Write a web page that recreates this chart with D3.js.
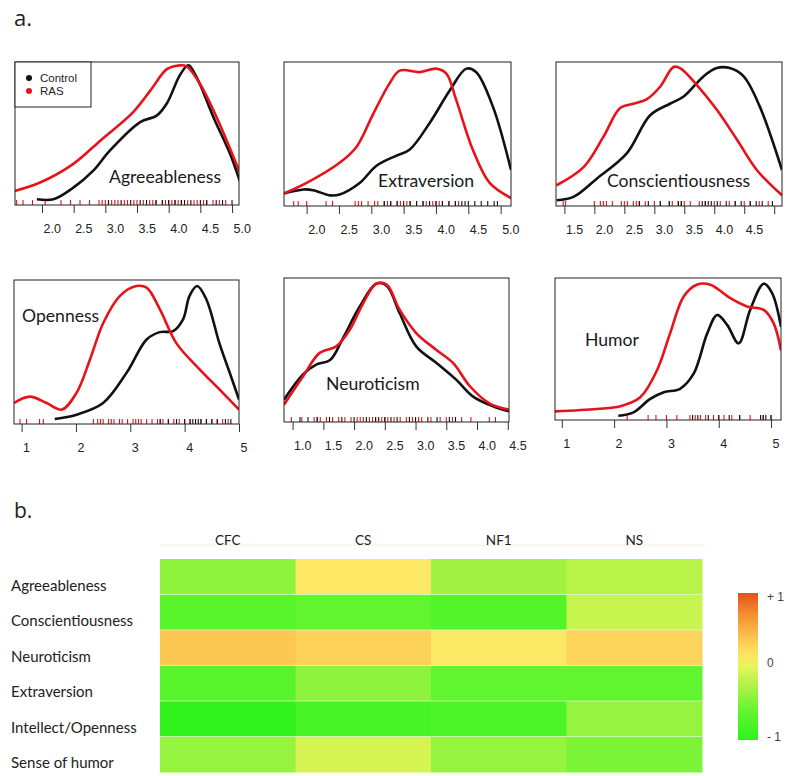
<!DOCTYPE html>
<html><head><meta charset="utf-8">
<script src="https://cdn.jsdelivr.net/npm/d3@7"></script>
<style>body{margin:0;background:#fff;} svg{display:block}</style>
</head><body><svg id="c" width="800" height="776"></svg>
<script>
// ================= DATA =================
// Density curves: [score, relative density (0..1 of plot height)]
const agreeControl = [[1.92,0.04],[2.18,0.04],[2.49,0.12],[2.81,0.24],[3.07,0.38],[3.55,0.58],[3.81,0.625],[3.97,0.71],[4.18,0.91],[4.31,0.977],[4.44,0.895],[4.71,0.61],[4.97,0.356],[5.12,0.17]];
const agreeRAS = [[1.57,0.098],[1.97,0.157],[2.49,0.286],[2.92,0.45],[3.44,0.65],[3.71,0.80],[3.97,0.95],[4.13,0.974],[4.28,0.97],[4.49,0.85],[4.76,0.61],[5.12,0.23]];
const extraControl = [[1.65,0.087],[1.95,0.115],[2.1,0.11],[2.36,0.074],[2.51,0.08],[2.82,0.16],[3.08,0.28],[3.39,0.35],[3.59,0.39],[3.9,0.575],[4.21,0.80],[4.47,0.954],[4.62,0.93],[4.88,0.69],[5.16,0.25]];
const extraRAS = [[1.65,0.087],[2.0,0.16],[2.51,0.30],[2.77,0.41],[3.03,0.64],[3.28,0.85],[3.44,0.94],[3.75,0.93],[4.0,0.954],[4.16,0.92],[4.31,0.74],[4.57,0.39],[4.83,0.16],[5.16,0.055]];
const conscControl = [[1.37,0.04],[1.65,0.063],[2.04,0.19],[2.54,0.365],[2.93,0.63],[3.26,0.71],[3.49,0.76],[3.82,0.9],[4.04,0.958],[4.26,0.958],[4.49,0.9],[4.76,0.69],[5.13,0.25]];
const conscRAS = [[1.37,0.144],[1.82,0.27],[2.15,0.48],[2.43,0.68],[2.65,0.71],[2.87,0.74],[3.1,0.83],[3.32,0.965],[3.43,0.958],[3.71,0.84],[4.04,0.67],[4.38,0.46],[4.71,0.25],[5.13,0.074]];
const openControl = [[1.61,0.035],[2.01,0.065],[2.5,0.146],[2.93,0.355],[3.3,0.587],[3.54,0.638],[3.79,0.645],[3.97,0.726],[4.09,0.89],[4.23,0.958],[4.4,0.865],[4.64,0.56],[4.83,0.355],[5.0,0.17]];
const openRAS = [[0.86,0.146],[1.15,0.19],[1.46,0.146],[1.74,0.10],[2.01,0.216],[2.26,0.45],[2.5,0.70],[2.81,0.89],[3.11,0.958],[3.3,0.947],[3.54,0.80],[3.85,0.56],[4.28,0.378],[4.64,0.24],[5.0,0.10]];
const neuroControl = [[0.86,0.155],[1.17,0.33],[1.39,0.40],[1.61,0.43],[1.82,0.583],[2.09,0.80],[2.36,0.96],[2.53,0.947],[2.74,0.757],[3.01,0.525],[3.34,0.41],[3.66,0.294],[3.93,0.178],[4.26,0.109],[4.52,0.074]];
const neuroRAS = [[0.86,0.12],[1.17,0.317],[1.44,0.48],[1.71,0.525],[1.93,0.64],[2.15,0.826],[2.36,0.96],[2.53,0.954],[2.74,0.78],[3.01,0.618],[3.34,0.50],[3.61,0.41],[3.88,0.25],[4.2,0.13],[4.52,0.086]];
const humorControl = [[2.08,0.03],[2.37,0.054],[2.69,0.149],[2.95,0.196],[3.26,0.22],[3.52,0.326],[3.78,0.61],[3.97,0.74],[4.16,0.67],[4.38,0.54],[4.6,0.775],[4.86,0.96],[5.02,0.894],[5.19,0.657]];
const humorRAS = [[0.87,0.061],[1.67,0.078],[2.12,0.097],[2.5,0.16],[2.82,0.35],[3.07,0.61],[3.33,0.87],[3.58,0.953],[3.84,0.953],[4.22,0.858],[4.54,0.80],[4.86,0.775],[5.05,0.68],[5.19,0.49]];

// Rug values (individual scores)
const agreeRugRAS = [1.6,1.7,1.85,2.05,2.3,2.45,2.6,2.75,2.9,2.95,3.0,3.05,3.1,3.15,3.2,3.3,3.35,3.45,3.5,3.6,3.7,3.75,3.8,3.9,3.95,4.0,4.05,4.1,4.15,4.2,4.3,4.4,4.45,4.55,4.6,4.7,4.8,4.9];
const agreeRugControl = [3.05,3.25,3.4,3.55,3.65,3.8,3.9,4.0,4.1,4.2,4.25,4.35,4.5,4.6,4.75,4.85,5.0];
const extraRugRAS = [1.8,1.87,2.0,2.3,2.4,2.75,2.8,2.85,2.95,3.05,3.1,3.2,3.25,3.3,3.4,3.45,3.55,3.6,3.7,3.8,3.85,3.9,3.95,4.0,4.05,4.1,4.2,4.3,4.35];
const extraRugControl = [3.2,3.3,3.4,3.5,3.6,3.7,3.8,3.9,4.0,4.1,4.2,4.3,4.4,4.45,4.5,4.6,4.7,4.8,4.9,4.95];
const conscRugRAS = [1.48,1.52,2.0,2.1,2.15,2.2,2.3,2.45,2.5,2.55,2.65,2.7,2.75,2.85,3.0,3.1,3.25,3.3,3.4,3.45,3.5,3.6,3.75,3.85,4.0,4.1,4.25,4.35,4.5,4.6,4.75,4.9];
const conscRugControl = [2.75,2.9,3.1,3.25,3.4,3.45,3.8,3.85,3.9,3.95,4.05,4.2,4.35,4.45,4.6,4.7,4.8,4.97];
const openRugRAS = [0.97,1.09,1.33,1.4,2.32,2.4,2.45,2.5,2.6,2.65,2.7,2.8,2.85,2.95,3.05,3.1,3.15,3.2,3.3,3.4,3.5,3.55,3.6,3.7,3.8,3.9,4.0,4.1,4.2,4.3,4.4,4.5,4.6,4.7,4.8];
const openRugControl = [3.55,3.7,3.85,4.0,4.1,4.15,4.2,4.25,4.3,4.4,4.5,4.6,4.75,4.85];
const neuroRugRAS = [0.98,1.15,1.35,1.4,1.45,1.55,1.65,1.75,1.85,1.95,2.05,2.1,2.15,2.25,2.3,2.35,2.45,2.5,2.55,2.65,2.75,2.85,2.95,3.05,3.1,3.25,3.4,3.5,3.6,3.75,3.9,4.2,4.3];
const neuroRugControl = [1.12,1.25,1.4,1.6,1.8,2.0,2.2,2.35,2.4,2.5,2.6,2.7,2.9,3.0,3.2,3.35,3.55,3.65];
const humorRugRAS = [2.25,2.65,2.8,3.0,3.2,3.45,3.55,3.65,3.75,3.9,4.0,4.1,4.25,4.4,4.6,4.85,5.0];
const humorRugControl = [3.5,3.6,3.8,4.0,4.2,4.4,4.8,4.85,4.9,5.0];

// Axis ticks (value) and tick labels
const ticksHalf = [2.0,2.5,3.0,3.5,4.0,4.5,5.0];
const ticksConsc = [1.5,2.0,2.5,3.0,3.5,4.0,4.5,5.0];
const labelsConsc = ["1.5","2.0","2.5","3.0","3.5","4.0","4.5",""];
const ticksInt = [1,2,3,4,5];
const ticksNeuro = [1.0,1.5,2.0,2.5,3.0,3.5,4.0,4.5];

const legendGroups = ["Control","RAS"];

// Heatmap
const hmColumns = ["CFC","CS","NF1","NS"];
const hmRows = ["Agreeableness","Conscientiousness","Neuroticism","Extraversion","Intellect/Openness","Sense of humor"];
const hmAgree = [-0.42, 0.15, -0.33, -0.22];
const hmConsc = [-0.68, -0.62, -0.72, -0.15];
const hmNeuro = [0.36, 0.30, 0.14, 0.28];
const hmExtra = [-0.70, -0.42, -0.62, -0.62];
const hmOpen = [-0.98, -0.80, -0.77, -0.38];
const hmHumor = [-0.38, -0.08, -0.38, -0.50];
const colorbarTicks = [1, 0, -1];
const colorbarLabels = ["+ 1", "0", "- 1"];

// ================= LAYOUT / STYLE =================
const RED = "#e8121a", BLACK = "#111";
const f1 = d3.format(".1f"), fi = d3.format("d");
const panels = [
  {title:"Agreeableness", ctl:agreeControl, ras:agreeRAS, rugC:agreeRugControl, rugR:agreeRugRAS, ticks:ticksHalf, fmt:f1, dom:[1.574,5.11], x0:15, x1:239, y0:62, y1:205, tx:109, ty:182.5, legend:true},
  {title:"Extraversion", ctl:extraControl, ras:extraRAS, rugC:extraRugControl, rugR:extraRugRAS, ticks:ticksHalf, fmt:f1, dom:[1.65,5.16], x0:284, x1:511, y0:62, y1:206, tx:378, ty:187},
  {title:"Conscientiousness", ctl:conscControl, ras:conscRAS, rugC:conscRugControl, rugR:conscRugRAS, ticks:ticksConsc, fmt:(d,i)=>labelsConsc[i], dom:[1.36,5.13], x0:556, x1:782, y0:62, y1:206, tx:607, ty:187},
  {title:"Openness", ctl:openControl, ras:openRAS, rugC:openRugControl, rugR:openRugRAS, ticks:ticksInt, fmt:fi, dom:[0.86,5.0], x0:14, x1:239, y0:280, y1:424, tx:22, ty:321.5},
  {title:"Neuroticism", ctl:neuroControl, ras:neuroRAS, rugC:neuroRugControl, rugR:neuroRugRAS, ticks:ticksNeuro, fmt:f1, dom:[0.86,4.52], x0:284, x1:509, y0:278, y1:422, tx:326, ty:390},
  {title:"Humor", ctl:humorControl, ras:humorRAS, rugC:humorRugControl, rugR:humorRugRAS, ticks:ticksInt, fmt:fi, dom:[0.87,5.19], x0:555, x1:781, y0:278, y1:420, tx:585, ty:346}
];

const svg = d3.select("#c");
svg.append("rect").attr("width",800).attr("height",776).attr("fill","#fff");

// panel letters
svg.append("text").attr("x",14).attr("y",26).attr("font-family","Open Sans, sans-serif").attr("font-size",22).attr("fill","#222").text("a.");
svg.append("text").attr("x",14).attr("y",518).attr("font-family","Open Sans, sans-serif").attr("font-size",21).attr("fill","#222").text("b.");

panels.forEach((p,i) => {
  const x = d3.scaleLinear().domain(p.dom).range([p.x0,p.x1]);
  const y = d3.scaleLinear().domain([0,1]).range([p.y1,p.y0]);
  const g = svg.append("g");
  const cid = "clip"+i;
  svg.append("clipPath").attr("id",cid).append("rect")
    .attr("x",p.x0).attr("y",p.y0-3).attr("width",p.x1-p.x0).attr("height",p.y1-p.y0+3);

  // rugs
  const rug = (vals,col) => g.append("g").selectAll("line").data(vals).join("line")
    .attr("x1",d=>x(d)).attr("x2",d=>x(d)).attr("y1",p.y1).attr("y2",p.y1-5)
    .attr("stroke",col).attr("stroke-width",1.1);
  rug(p.rugR,RED);
  rug(p.rugC,BLACK);

  const line = d3.line().x(d=>x(d[0])).y(d=>y(d[1])).curve(d3.curveCatmullRom.alpha(0.5));
  g.append("path").datum(p.ctl).attr("d",line).attr("fill","none").attr("stroke",BLACK)
    .attr("stroke-width",2.6).attr("clip-path",`url(#${cid})`);
  g.append("path").datum(p.ras).attr("d",line).attr("fill","none").attr("stroke",RED)
    .attr("stroke-width",2.6).attr("clip-path",`url(#${cid})`);

  // box
  g.append("rect").attr("x",p.x0).attr("y",p.y0).attr("width",p.x1-p.x0).attr("height",p.y1-p.y0)
    .attr("fill","none").attr("stroke","#222").attr("stroke-width",1);

  // axis
  const ax = g.append("g").attr("transform",`translate(0,${p.y1})`)
    .call(d3.axisBottom(x).tickValues(p.ticks).tickSize(8).tickFormat(p.fmt));
  ax.select(".domain").remove();
  ax.selectAll(".tick line").attr("stroke","#333").attr("stroke-width",1);
  ax.selectAll(".tick text").attr("text-anchor","start").attr("x",1).attr("y",19)
    .attr("font-family","Liberation Sans, Arial, sans-serif").attr("font-size",12.5).attr("fill","#222");

  // title
  g.append("text").attr("x",p.tx).attr("y",p.ty).attr("font-family","Lato, sans-serif")
    .attr("font-size",17.6).attr("fill","#1a1a1a").text(p.title);

  if (p.legend) {
    const lg = g.append("g");
    lg.append("rect").attr("x",p.x0).attr("y",p.y0).attr("width",76).attr("height",45)
      .attr("fill","#fff").attr("stroke","#222").attr("stroke-width",1);
    legendGroups.forEach((name,j) => {
      const cy = p.y0 + 16 + j*13;
      lg.append("circle").attr("cx",p.x0+14).attr("cy",cy).attr("r",3).attr("fill",j===0?BLACK:RED);
      lg.append("text").attr("x",p.x0+25).attr("y",cy+4).attr("font-family","Liberation Sans, Arial, sans-serif")
        .attr("font-size",11.5).attr("fill","#222").text(name);
    });
  }
});

// ================= HEATMAP =================
const hmValues = [hmAgree,hmConsc,hmNeuro,hmExtra,hmOpen,hmHumor];
const color = d3.scaleLinear()
  .domain([-1,-0.6,-0.3,0,0.15,0.4,0.7,1])
  .range(["#2ef21c","#64f530","#a8f244","#e6f55a","#fde866","#fcc24e","#f49030","#e8501a"]);
const hx = d3.scaleBand().domain(hmColumns).range([160,702]);
const hy = d3.scaleBand().domain(hmRows).range([559,772]);
const hg = svg.append("g");
hmRows.forEach((r,ri) => {
  hg.append("g").selectAll("rect").data(hmValues[ri]).join("rect")
    .attr("x",(d,ci)=>hx(hmColumns[ci])).attr("y",hy(r))
    .attr("width",hx.bandwidth()+0.5).attr("height",hy.bandwidth()+0.5)
    .attr("fill",d=>color(d));
});
// faint row separators
hg.selectAll("line.sep").data(hmRows.slice(1)).join("line").attr("class","sep")
  .attr("x1",160).attr("x2",702).attr("y1",d=>hy(d)).attr("y2",d=>hy(d))
  .attr("stroke","#e8f8e0").attr("stroke-opacity",0.7).attr("stroke-width",1);
// faint header line
hg.append("line").attr("x1",160).attr("x2",705).attr("y1",545).attr("y2",545)
  .attr("stroke","#f4f0dc").attr("stroke-width",1);

hg.selectAll("text.col").data(hmColumns).join("text").attr("class","col")
  .attr("x",d=>hx(d)+hx.bandwidth()/2).attr("y",545).attr("text-anchor","middle")
  .attr("font-family","Lato, sans-serif").attr("font-size",13.5).attr("fill","#222").text(d=>d);
hg.selectAll("text.row").data(hmRows).join("text").attr("class","row")
  .attr("x",11).attr("y",d=>hy(d)+hy.bandwidth()/2+14)
  .attr("font-family","Lato, sans-serif").attr("font-size",15).attr("fill","#222").text(d=>d);

// colorbar
const cb = d3.scaleLinear().domain([1,-1]).range([593,740]);
const defs = svg.append("defs");
const grad = defs.append("linearGradient").attr("id","cbg").attr("x1",0).attr("y1",0).attr("x2",0).attr("y2",1);
d3.range(0,1.0001,0.05).forEach(t => {
  grad.append("stop").attr("offset",t).attr("stop-color",color(1-2*t));
});
svg.append("rect").attr("x",738).attr("y",cb(1)).attr("width",20).attr("height",cb(-1)-cb(1)).attr("fill","url(#cbg)");
svg.append("g").selectAll("text").data(colorbarTicks).join("text")
  .attr("x",767).attr("y",d=>cb(d)+ (d===1?8:(d===-1?1:0)))
  .attr("font-family","Liberation Sans, Arial, sans-serif").attr("font-size",12).attr("fill","#444")
  .text((d,i)=>colorbarLabels[i]);
</script></body></html>
